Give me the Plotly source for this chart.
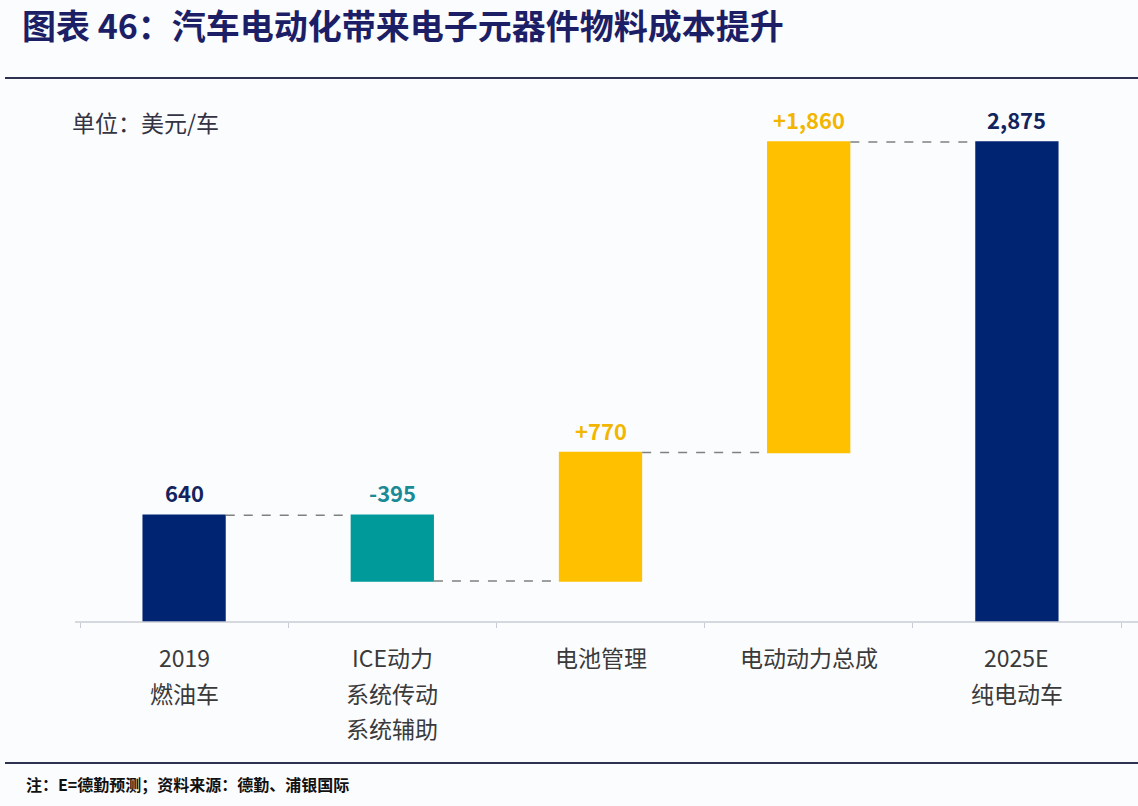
import plotly.graph_objects as go

# ---- data ----
categories = ["2019燃油车", "ICE动力系统传动系统辅助", "电池管理", "电动动力总成", "2025E纯电动车"]
tick_lines = [["2019", "燃油车"], ["ICE动力", "系统传动", "系统辅助"], ["电池管理"], ["电动动力总成"], ["2025E", "纯电动车"]]
values = [640, -395, 770, 1860, 2875]
measures = ["absolute", "relative", "relative", "relative", "total"]
value_labels = ["640", "-395", "+770", "+1,860", "2,875"]
label_colors = ["#13235e", "#1a8a96", "#f2b600", "#f2b600", "#13235e"]

title_text = "图表 46：汽车电动化带来电子元器件物料成本提升"
unit_text = "单位：美元/车"
footer_text = "注：E=德勤预测；资料来源：德勤、浦银国际"

# ---- layout geometry ----
W, H = 1138, 806
ML, MR, MT, MB = 80, 17, 100, 184
PW, PH = W - ML - MR, H - MT - MB
FONT = "Noto Sans CJK SC"


def px(x):
    return (x - ML) / PW


def py(y):
    return (H - MB - y) / PH


fig = go.Figure()
fig.add_trace(go.Waterfall(
    x=categories, y=values, measure=measures,
    totals=dict(marker=dict(color="#012472")),
    increasing=dict(marker=dict(color="#ffc000")),
    decreasing=dict(marker=dict(color="#009a9b")),
    connector=dict(mode="between", line=dict(color="#808080", width=1.5, dash="dash")),
    hoverinfo="skip", showlegend=False,
))

# value labels above bars
running = 0
tops = []
for v, m in zip(values, measures):
    if m == "absolute":
        running = v
        tops.append(v)
    elif m == "total":
        tops.append(running)
    else:
        prev = running
        running += v
        tops.append(max(prev, running))

annotations = []
for c, t, lab, col in zip(categories, tops, value_labels, label_colors):
    annotations.append(dict(x=c, y=t, xref="x", yref="y", text="<b>%s</b>" % lab,
                            showarrow=False, yanchor="bottom", yshift=5,
                            font=dict(family=FONT, size=22, color=col)))

# category labels
for c, lines in zip(categories, tick_lines):
    for i, ln in enumerate(lines):
        annotations.append(dict(x=c, y=py(657 + 35.5 * i), xref="x", yref="paper", text=ln,
                                showarrow=False, yanchor="middle",
                                font=dict(family=FONT, size=23, color="#3a3a3a")))

annotations.append(dict(x=px(70), y=py(122), xref="paper", yref="paper", text=unit_text,
                        showarrow=False, xanchor="left", yanchor="middle",
                        font=dict(family=FONT, size=23, color="#333344")))
annotations.append(dict(x=px(24), y=py(784), xref="paper", yref="paper", text="<b>%s</b>" % footer_text,
                        showarrow=False, xanchor="left", yanchor="middle",
                        font=dict(family=FONT, size=16, color="#111111")))

shapes = [
    dict(type="line", xref="paper", yref="paper", x0=px(5), x1=px(1138), y0=py(78), y1=py(78),
         line=dict(color="#2e3150", width=2)),
    dict(type="line", xref="paper", yref="paper", x0=px(5), x1=px(1138), y0=py(763), y1=py(763),
         line=dict(color="#2e3150", width=2)),
    dict(type="line", xref="paper", yref="paper", x0=px(75), x1=px(1138), y0=0, y1=0,
         line=dict(color="#c8ccd4", width=1.5)),
]

fig.update_layout(
    width=W, height=H,
    margin=dict(l=ML, r=MR, t=MT, b=MB),
    paper_bgcolor="#fbfcfe", plot_bgcolor="#fbfcfe",
    waterfallgap=0.6,
    title=dict(text="<b>%s</b>" % title_text, xref="container", yref="container",
               x=22 / W, y=1 - 27 / H, xanchor="left", yanchor="middle",
               font=dict(family=FONT, size=34, color="#1d1f66")),
    xaxis=dict(type="category", showticklabels=False, showline=False, showgrid=False,
               ticks="outside", tickson="boundaries", ticklen=5, tickcolor="#c8ccd4",
               zeroline=False, range=[-0.5, 4.5]),
    yaxis=dict(range=[0, 2875 * PH / 480], visible=False, showgrid=False, zeroline=False),
    annotations=annotations, shapes=shapes,
)

fig.write_html("out.html",
               config={"displayModeBar": False, "staticPlot": True},
               post_script="document.body.style.margin='0';document.body.style.padding='0';"
                           "document.body.style.overflow='hidden';")
